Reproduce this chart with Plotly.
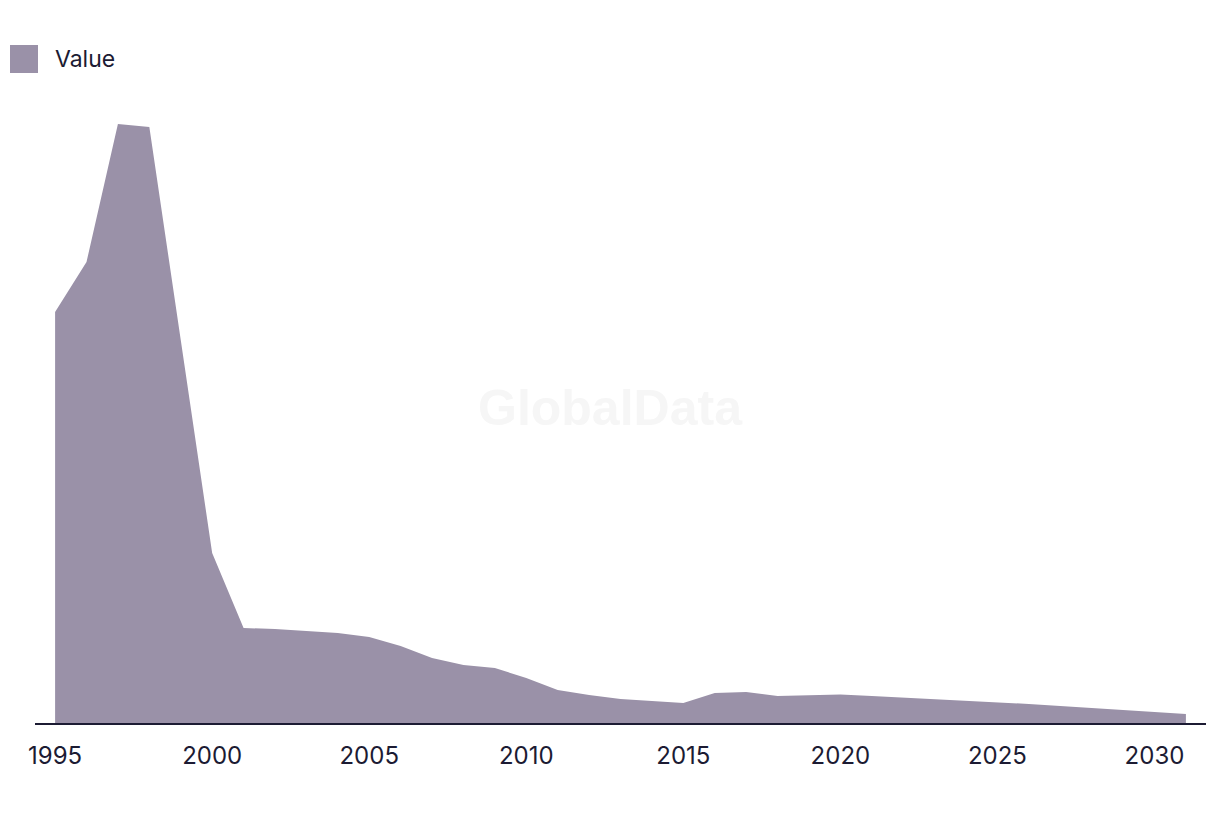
import plotly.graph_objects as go

years = list(range(1995, 2032))
values = [411, 461, 599, 596, 383, 170, 95, 94, 92, 90, 86, 77, 65, 58, 55, 45,
          33, 28, 24, 22, 20, 30, 31, 27, 28, 28.5, 27, 25.5, 24, 22.5, 21, 19,
          17, 15, 13, 11, 9]
tick_years = [1995, 2000, 2005, 2010, 2015, 2020, 2025, 2030]

fill_color = "#9a91a8"
text_color = "#1c1b33"

area = go.Scatter(
    x=years,
    y=values,
    mode="lines",
    line=dict(width=0, color=fill_color),
    fill="tozeroy",
    fillcolor=fill_color,
    name="Value",
    showlegend=False,
    hoverinfo="x+y",
)

# plot area: 1171 x 623 px
layout = go.Layout(
    width=1220,
    height=814,
    margin=dict(l=27, r=22, t=92, b=99),
    plot_bgcolor="white",
    paper_bgcolor="white",
    font=dict(family="Inter, Roboto, sans-serif", color=text_color),
    xaxis=dict(
        range=[1994.36, 2031.64],
        tickvals=tick_years,
        ticktext=[str(y) for y in tick_years],
        showgrid=False,
        zeroline=False,
        showline=True,
        linecolor=text_color,
        linewidth=2,
        ticks="",
        tickfont=dict(size=24, color=text_color),
        ticklabelstandoff=10,
    ),
    yaxis=dict(
        range=[0, 623],
        showgrid=False,
        zeroline=False,
        showline=False,
        showticklabels=False,
    ),
    showlegend=False,
    shapes=[
        dict(type="rect", xref="paper", yref="paper",
             x0=-25 / 1171, x1=3 / 1171, y0=(723 - 73) / 623, y1=(723 - 45) / 623,
             fillcolor=fill_color, line=dict(width=0)),
    ],
    annotations=[
        dict(text="Value", xref="paper", yref="paper",
             x=18 / 1171, y=(723 - 59) / 623, xanchor="left", yanchor="middle",
             showarrow=False, font=dict(size=23, color=text_color)),
        dict(text="<b>GlobalData</b>", xref="paper", yref="paper",
             x=(610 - 35) / 1171, y=(723 - 408) / 623, xanchor="center", yanchor="middle",
             showarrow=False, font=dict(size=50, color="#f6f6f6",
                                        family="Liberation Sans, Arial, sans-serif")),
    ],
)

fig = go.Figure(data=[area], layout=layout)
fig.write_html("out.html")
